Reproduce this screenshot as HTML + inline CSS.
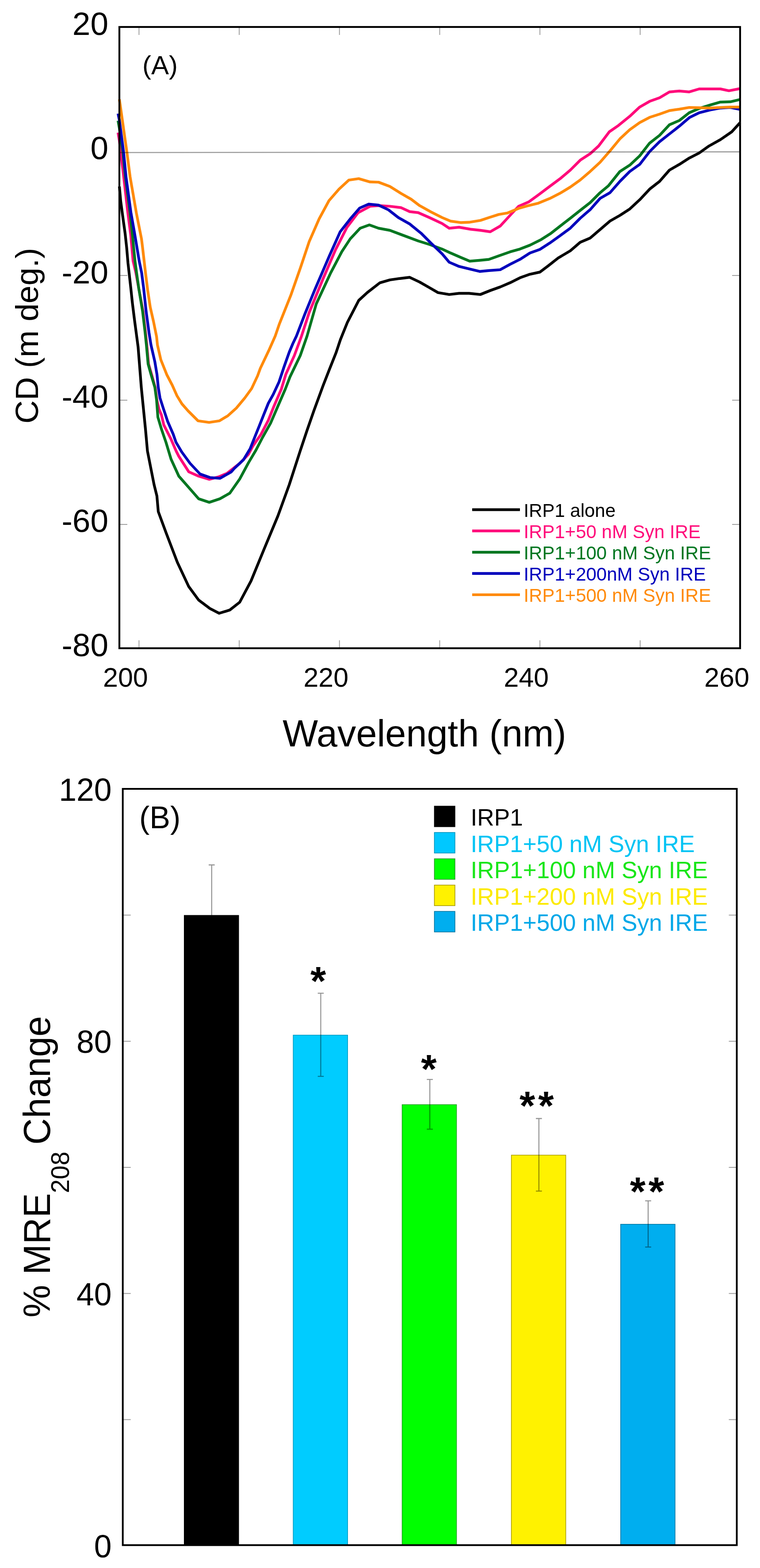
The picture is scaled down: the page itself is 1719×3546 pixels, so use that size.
<!DOCTYPE html>
<html><head><meta charset="utf-8"><title>Figure</title>
<style>html,body{margin:0;padding:0;background:#fff;}body{width:1719px;height:3546px;overflow:hidden;}svg{display:block;}text{font-family:"Liberation Sans", Arial, sans-serif;}</style>
</head><body>
<svg width="1719" height="3546" viewBox="0 0 1719 3546">
<rect x="0" y="0" width="1719" height="3546" fill="#fff"/>
<line x1="314.4" y1="1466" x2="314.4" y2="1448" stroke="#a0a0a0" stroke-width="2"/>
<line x1="314.4" y1="61" x2="314.4" y2="79" stroke="#a0a0a0" stroke-width="2"/>
<line x1="541.1" y1="1466" x2="541.1" y2="1448" stroke="#a0a0a0" stroke-width="2"/>
<line x1="541.1" y1="61" x2="541.1" y2="79" stroke="#a0a0a0" stroke-width="2"/>
<line x1="767.8" y1="1466" x2="767.8" y2="1448" stroke="#a0a0a0" stroke-width="2"/>
<line x1="767.8" y1="61" x2="767.8" y2="79" stroke="#a0a0a0" stroke-width="2"/>
<line x1="994.5" y1="1466" x2="994.5" y2="1448" stroke="#a0a0a0" stroke-width="2"/>
<line x1="994.5" y1="61" x2="994.5" y2="79" stroke="#a0a0a0" stroke-width="2"/>
<line x1="1221.2" y1="1466" x2="1221.2" y2="1448" stroke="#a0a0a0" stroke-width="2"/>
<line x1="1221.2" y1="61" x2="1221.2" y2="79" stroke="#a0a0a0" stroke-width="2"/>
<line x1="1447.9" y1="1466" x2="1447.9" y2="1448" stroke="#a0a0a0" stroke-width="2"/>
<line x1="1447.9" y1="61" x2="1447.9" y2="79" stroke="#a0a0a0" stroke-width="2"/>
<line x1="270" y1="623" x2="288" y2="623" stroke="#a0a0a0" stroke-width="2"/>
<line x1="1674" y1="623" x2="1656" y2="623" stroke="#a0a0a0" stroke-width="2"/>
<line x1="270" y1="905" x2="288" y2="905" stroke="#a0a0a0" stroke-width="2"/>
<line x1="1674" y1="905" x2="1656" y2="905" stroke="#a0a0a0" stroke-width="2"/>
<line x1="270" y1="1186" x2="288" y2="1186" stroke="#a0a0a0" stroke-width="2"/>
<line x1="1674" y1="1186" x2="1656" y2="1186" stroke="#a0a0a0" stroke-width="2"/>
<g fill="none" stroke-width="6.2" stroke-linejoin="round" stroke-linecap="butt">
<polyline points="270.0,421.7 273.0,455.0 277.0,485.0 283.0,528.0 286.5,560.0 289.5,595.0 295.7,650.0 299.4,684.9 304.2,723.3 312.4,785.0 315.8,828.0 319.6,876.0 324.4,924.1 329.2,972.1 333.5,1020.0 348.5,1096.0 354.9,1121.7 358.0,1157.0 375.7,1205.0 401.3,1272.0 427.0,1326.7 449.3,1357.0 475.0,1376.3 495.8,1386.9 519.8,1379.5 542.2,1361.9 567.8,1313.8 596.7,1243.4 628.7,1166.5 654.3,1096.0 679.1,1019.4 694.5,973.3 709.9,929.1 731.0,871.5 744.5,836.9 759.8,798.4 770.0,768.0 785.7,729.1 811.4,679.4 830.6,661.8 859.4,639.4 881.8,633.0 904.2,629.8 926.7,627.2 949.0,637.8 971.5,650.6 990.7,661.8 1016.0,666.0 1038.4,663.4 1060.8,663.4 1086.5,666.0 1108.9,657.0 1131.3,649.0 1153.7,639.4 1176.1,628.2 1198.6,620.2 1221.0,615.4 1240.2,601.0 1262.6,583.4 1290.0,567.1 1312.4,547.9 1334.8,538.3 1357.3,519.1 1379.7,499.9 1402.1,487.1 1424.5,472.6 1446.9,451.8 1469.3,427.8 1491.8,410.2 1514.2,384.6 1536.6,371.8 1559.0,357.4 1581.4,346.1 1603.8,330.1 1629.5,315.7 1655.1,298.1 1674.0,277.3" stroke="#000000"/>
<polyline points="267.0,300.0 270.0,318.0 273.0,344.0 279.8,400.0 289.0,480.0 295.5,530.0 298.3,560.0 301.0,590.0 307.5,617.6 314.0,653.0 323.5,704.0 329.2,752.0 332.1,780.0 336.0,823.0 343.0,847.0 351.0,876.0 355.0,905.0 359.5,925.0 365.0,938.0 370.5,961.0 385.9,991.3 398.4,1020.0 404.5,1032.0 427.0,1067.0 449.3,1076.9 473.4,1084.0 494.2,1078.5 513.4,1070.5 542.2,1048.0 562.0,1027.3 572.3,1008.1 590.2,982.5 606.9,950.5 619.7,918.4 636.3,880.0 646.5,846.5 665.7,804.2 682.0,760.0 699.3,706.7 731.0,629.8 758.5,565.7 784.5,514.5 810.0,480.9 837.0,466.5 856.2,464.9 881.8,466.5 907.4,469.7 926.7,478.6 945.9,480.9 971.5,492.1 1000.0,505.5 1016.0,516.1 1038.4,513.9 1064.0,518.4 1086.5,520.9 1108.9,524.1 1131.3,511.3 1150.5,490.5 1172.9,466.5 1195.4,456.9 1217.8,440.8 1243.4,421.6 1269.0,402.4 1290.0,384.6 1312.4,362.2 1334.8,347.7 1354.0,330.1 1378.1,298.1 1398.9,283.7 1424.5,262.9 1446.9,242.1 1469.3,229.2 1491.8,221.2 1514.2,207.8 1536.6,205.9 1559.0,207.8 1581.4,201.1 1607.0,201.1 1629.5,201.1 1648.7,205.2 1674.0,200.4" stroke="#ff0a7a"/>
<polyline points="267.0,273.0 270.0,290.0 278.0,344.0 283.5,400.0 294.0,480.0 299.4,530.0 302.3,560.0 305.3,590.0 309.0,617.6 314.0,653.0 322.5,704.0 328.2,752.0 331.1,780.0 335.0,823.2 341.7,847.2 350.3,876.1 354.2,904.9 357.1,943.3 365.7,972.1 375.5,1000.5 386.9,1038.4 404.5,1076.9 427.0,1102.5 449.3,1128.0 473.4,1136.0 497.4,1128.0 519.8,1115.3 542.2,1083.3 562.0,1046.5 578.7,1018.4 594.0,988.9 612.0,956.9 628.6,918.4 645.3,880.0 656.0,852.2 679.1,804.2 694.5,760.0 715.3,687.4 748.0,617.0 773.2,569.0 792.2,540.1 814.6,516.1 835.4,508.7 856.2,516.1 881.8,520.9 907.4,530.5 945.9,544.9 971.5,552.9 1000.0,563.3 1019.2,572.2 1041.6,581.8 1062.5,590.7 1083.3,588.8 1105.7,586.6 1128.1,578.6 1153.7,569.6 1176.1,563.2 1198.6,554.5 1224.2,541.7 1246.6,527.3 1269.0,509.7 1290.0,493.5 1312.4,475.8 1334.8,458.2 1357.3,435.8 1376.5,419.8 1402.1,387.8 1424.5,373.4 1446.9,352.5 1469.3,323.7 1491.8,306.1 1514.2,282.1 1536.6,272.5 1559.0,254.9 1581.4,245.3 1607.0,237.3 1629.5,230.8 1651.9,230.2 1674.0,225.1" stroke="#007620"/>
<polyline points="267.0,257.0 270.0,272.0 279.5,344.0 285.0,400.0 296.0,480.0 304.8,530.0 309.8,560.0 314.8,590.0 320.5,617.6 325.0,653.0 330.5,704.0 337.0,752.0 341.5,780.0 350.3,818.4 355.1,847.2 358.0,876.1 361.9,900.1 369.6,924.1 379.2,952.9 391.7,981.7 398.0,1000.0 411.0,1022.0 430.0,1048.0 452.5,1072.0 475.0,1080.0 497.4,1081.7 523.0,1067.3 530.0,1059.3 550.5,1040.1 565.9,1014.5 576.1,988.9 586.4,963.3 596.6,937.6 606.9,912.0 618.0,892.0 631.1,863.8 642.6,829.2 654.2,796.5 662.4,777.0 670.5,760.0 689.7,709.9 712.0,655.4 745.0,578.6 769.5,524.1 792.0,495.3 813.5,470.5 833.8,461.7 856.2,463.9 878.6,474.5 901.0,492.0 926.7,506.5 952.3,527.3 974.7,549.7 1000.0,574.0 1016.0,593.0 1038.4,602.6 1060.8,608.0 1084.9,613.8 1105.7,611.9 1131.3,610.0 1153.7,597.8 1176.1,586.6 1198.6,572.2 1221.0,564.1 1243.4,549.7 1265.8,533.7 1290.0,515.9 1312.4,493.5 1334.8,474.2 1357.3,448.6 1379.7,435.8 1402.1,410.2 1424.5,387.8 1446.9,371.8 1469.3,342.9 1491.8,320.5 1514.2,302.9 1536.6,285.3 1559.0,266.1 1581.4,254.9 1607.0,248.5 1629.5,244.3 1651.9,243.0 1674.0,247.5" stroke="#0000bc"/>
<polyline points="270.0,224.5 287.0,344.0 294.3,400.0 308.5,482.0 320.0,540.0 322.5,560.0 329.2,617.6 334.0,656.0 339.8,694.5 347.4,728.0 354.2,761.7 356.1,780.0 363.8,813.6 377.2,847.2 389.7,871.3 400.3,895.0 411.5,913.4 425.0,928.8 448.0,951.8 473.0,955.3 496.0,951.8 515.3,940.3 534.5,923.0 553.7,900.0 569.1,878.8 582.6,850.0 588.8,833.0 608.0,792.7 622.5,760.0 632.0,732.3 657.6,668.2 680.0,604.2 699.3,546.5 721.7,495.3 744.1,453.7 766.5,428.0 789.0,407.2 811.4,404.0 837.0,411.4 856.2,412.0 881.8,421.6 907.4,437.6 929.9,450.5 949.0,464.9 974.7,479.3 1000.0,492.0 1019.2,500.1 1041.6,503.3 1060.8,502.7 1086.5,498.5 1105.7,492.1 1128.1,485.0 1147.3,481.8 1172.9,471.3 1192.2,465.8 1217.8,459.4 1243.4,448.9 1265.8,437.6 1290.0,423.0 1312.4,407.0 1334.8,387.8 1357.3,367.0 1379.7,341.3 1402.1,314.1 1424.5,293.3 1446.9,277.3 1469.3,265.4 1491.8,258.1 1514.2,250.1 1536.6,246.9 1559.0,243.0 1581.4,243.7 1607.0,244.3 1629.5,243.0 1651.9,242.1 1674.0,242.1" stroke="#ff8a0a"/>
</g>
<line x1="270" y1="345" x2="1674" y2="343.4" stroke="#000" stroke-opacity="0.38" stroke-width="2.6"/>
<rect x="270" y="61" width="1404" height="1405" fill="none" stroke="#000" stroke-width="4.2"/>
<g font-size="73" text-anchor="end" fill="#000">
<text x="245" y="79.4">20</text>
<text x="245" y="360.3">0</text>
<text x="245" y="641.2">-20</text>
<text x="245" y="922.1">-40</text>
<text x="245" y="1203.0">-60</text>
<text x="245" y="1483.9">-80</text>
</g>
<g font-size="61" text-anchor="middle" fill="#000">
<text x="283.9" y="1553.4">200</text>
<text x="737.3" y="1553.4">220</text>
<text x="1190.4" y="1553.4">240</text>
<text x="1644.0" y="1553.4">260</text>
</g>
<text x="960" y="1688" font-size="84.7" text-anchor="middle">Wavelength (nm)</text>
<text x="322" y="168.2" font-size="60">(A)</text>
<text transform="translate(85.8,759.2) rotate(-90)" font-size="73" text-anchor="middle">CD (m deg.)</text>
<line x1="1068" y1="1152.6" x2="1176" y2="1152.6" stroke="#000000" stroke-width="6.2"/>
<text x="1184.5" y="1169.0" font-size="42" fill="#000000">IRP1 alone</text>
<line x1="1068" y1="1200.7" x2="1176" y2="1200.7" stroke="#ff0a7a" stroke-width="6.2"/>
<text x="1184.5" y="1217.1" font-size="42" fill="#ff0a7a">IRP1+50 nM Syn IRE</text>
<line x1="1068" y1="1248.8" x2="1176" y2="1248.8" stroke="#007620" stroke-width="6.2"/>
<text x="1184.5" y="1265.2" font-size="42" fill="#007620">IRP1+100 nM Syn IRE</text>
<line x1="1068" y1="1296.9" x2="1176" y2="1296.9" stroke="#0000bc" stroke-width="6.2"/>
<text x="1184.5" y="1313.3" font-size="42" fill="#0000bc">IRP1+200nM Syn IRE</text>
<line x1="1068" y1="1345.0" x2="1176" y2="1345.0" stroke="#ff8a0a" stroke-width="6.2"/>
<text x="1184.5" y="1361.4" font-size="42" fill="#ff8a0a">IRP1+500 nM Syn IRE</text>
<line x1="277.7" y1="2069.5" x2="295.7" y2="2069.5" stroke="#a0a0a0" stroke-width="2"/>
<line x1="1666.5" y1="2069.5" x2="1648.5" y2="2069.5" stroke="#a0a0a0" stroke-width="2"/>
<line x1="277.7" y1="2354.8" x2="295.7" y2="2354.8" stroke="#a0a0a0" stroke-width="2"/>
<line x1="1666.5" y1="2354.8" x2="1648.5" y2="2354.8" stroke="#a0a0a0" stroke-width="2"/>
<line x1="277.7" y1="2640" x2="295.7" y2="2640" stroke="#a0a0a0" stroke-width="2"/>
<line x1="1666.5" y1="2640" x2="1648.5" y2="2640" stroke="#a0a0a0" stroke-width="2"/>
<line x1="277.7" y1="2925.2" x2="295.7" y2="2925.2" stroke="#a0a0a0" stroke-width="2"/>
<line x1="1666.5" y1="2925.2" x2="1648.5" y2="2925.2" stroke="#a0a0a0" stroke-width="2"/>
<line x1="277.7" y1="3210.4" x2="295.7" y2="3210.4" stroke="#a0a0a0" stroke-width="2"/>
<line x1="1666.5" y1="3210.4" x2="1648.5" y2="3210.4" stroke="#a0a0a0" stroke-width="2"/>
<rect x="416.75" y="2070.15" width="123.00" height="1424.15" fill="#000000" stroke="#000000" stroke-width="1.5"/>
<path d="M478.8 1956.0V2182.8M472.0 1956.0H485.6M472.0 2182.8H485.6" stroke="#000" stroke-opacity="0.42" stroke-width="2.3" fill="none"/>
<rect x="663.25" y="2340.95" width="123.00" height="1153.35" fill="#00ccff" stroke="#0098c0" stroke-width="1.5"/>
<path d="M725.5 2246.2V2434.2M718.7 2246.2H732.3M718.7 2434.2H732.3" stroke="#000" stroke-opacity="0.42" stroke-width="2.3" fill="none"/>
<rect x="909.55" y="2498.15" width="123.00" height="996.15" fill="#00ff00" stroke="#20a020" stroke-width="1.5"/>
<path d="M972.2 2441.2V2553.6M965.4 2441.2H979.0M965.4 2553.6H979.0" stroke="#000" stroke-opacity="0.42" stroke-width="2.3" fill="none"/>
<rect x="1156.65" y="2612.35" width="123.00" height="881.95" fill="#fff200" stroke="#a89a00" stroke-width="1.5"/>
<path d="M1218.9 2529.5V2693.7M1212.1 2529.5H1225.7M1212.1 2693.7H1225.7" stroke="#000" stroke-opacity="0.42" stroke-width="2.3" fill="none"/>
<rect x="1403.85" y="2768.65" width="123.00" height="725.65" fill="#00aeef" stroke="#00739e" stroke-width="1.5"/>
<path d="M1466.0 2715.6V2820.2M1459.2 2715.6H1472.8M1459.2 2820.2H1472.8" stroke="#000" stroke-opacity="0.42" stroke-width="2.3" fill="none"/>
<g font-size="91" font-weight="bold" text-anchor="middle" fill="#000">
<text x="719.75" y="2249.9">*</text>
<text x="969.85" y="2448.8">*</text>
<text x="1192.70" y="2532.1">*</text>
<text x="1234.90" y="2532.1">*</text>
<text x="1442.50" y="2726.1">*</text>
<text x="1484.50" y="2726.1">*</text>
</g>
<rect x="277.7" y="1784" width="1388.8" height="1710.3" fill="none" stroke="#000" stroke-width="4"/>
<g font-size="71.5" text-anchor="end" fill="#000">
<text x="252.5" y="1811.2">120</text>
<text x="252.5" y="2381.0">80</text>
<text x="252.5" y="2952.0">40</text>
<text x="252.5" y="3521.7">0</text>
</g>
<text x="315" y="1873" font-size="70">(B)</text>
<text transform="translate(113,2979.5) rotate(-90) scale(1,1.035)" font-size="83">% MRE<tspan font-size="56.3" dy="42">208 </tspan><tspan dy="-42">Change</tspan></text>
<rect x="982.5" y="1823.1" width="46.5" height="46.5" fill="#000000" stroke="#000000" stroke-width="1.5"/>
<text x="1064.5" y="1867.3" font-size="53.2" fill="#000000">IRP1</text>
<rect x="982.5" y="1882.6" width="46.5" height="46.5" fill="#00c8ff" stroke="#0090b8" stroke-width="1.5"/>
<text x="1064.5" y="1926.7" font-size="53.2" fill="#00c4f4">IRP1+50 nM Syn IRE</text>
<rect x="982.5" y="1942.1" width="46.5" height="46.5" fill="#00ff00" stroke="#279227" stroke-width="1.5"/>
<text x="1064.5" y="1986.1" font-size="53.2" fill="#19e619">IRP1+100 nM Syn IRE</text>
<rect x="982.5" y="2001.6" width="46.5" height="46.5" fill="#fff200" stroke="#a39400" stroke-width="1.5"/>
<text x="1064.5" y="2045.5" font-size="53.2" fill="#fcea00">IRP1+200 nM Syn IRE</text>
<rect x="982.5" y="2061.1" width="46.5" height="46.5" fill="#00aeef" stroke="#00709a" stroke-width="1.5"/>
<text x="1064.5" y="2104.9" font-size="53.2" fill="#00a8e8">IRP1+500 nM Syn IRE</text>
</svg>
</body></html>
